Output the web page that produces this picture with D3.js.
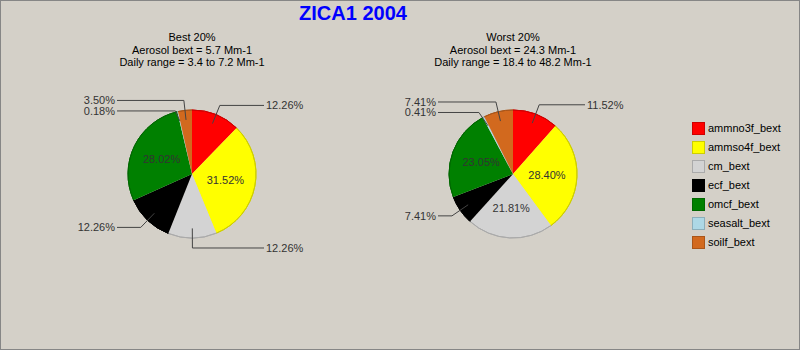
<!DOCTYPE html>
<html>
<head>
<meta charset="utf-8">
<script src="https://cdn.jsdelivr.net/npm/d3@7/dist/d3.min.js"></script>
<style>
  html, body { margin: 0; padding: 0; background: #d4d0c8; }
  svg { display: block; font-family: Arial, "Liberation Sans", sans-serif; }
</style>
</head>
<body>
<svg id="chart" width="800" height="350"></svg>
<script>
// Light-extinction composition, best and worst 20% days
const chartTitle = "ZICA1 2004";
const categories = ["ammno3f_bext", "ammso4f_bext", "cm_bext", "ecf_bext", "omcf_bext", "seasalt_bext", "soilf_bext"];
const bestValues = [12.26, 31.52, 12.26, 12.26, 28.02, 0.18, 3.50];
const worstValues = [11.52, 28.40, 21.81, 7.41, 23.05, 0.41, 7.41];
const bestHeader = ["Best 20%", "Aerosol bext = 5.7 Mm-1", "Daily range = 3.4 to 7.2 Mm-1"];
const worstHeader = ["Worst 20%", "Aerosol bext = 24.3 Mm-1", "Daily range = 18.4 to 48.2 Mm-1"];

const sliceColors = ["#ff0000", "#ffff00", "#d3d3d3", "#000000", "#008000", "#add8e6", "#d2691e"];

const W = 800, H = 350;
const svg = d3.select("#chart");

svg.append("rect").attr("x", 0.5).attr("y", 0.5).attr("width", W - 1).attr("height", H - 1)
  .attr("fill", "#d4d0c8").attr("stroke", "#868686");

svg.append("text")
  .attr("x", 353).attr("y", 20)
  .attr("text-anchor", "middle")
  .attr("font-size", 20).attr("font-weight", "bold")
  .attr("fill", "#0000ff")
  .text(chartTitle);

const color = d3.scaleOrdinal().domain(categories).range(sliceColors);
const fmt = v => d3.format(".2f")(v) + "%";

const R = 64;
const pie = d3.pie().sort(null).value(d => d.value);
const arc = d3.arc().innerRadius(0).outerRadius(R);
const rim = d3.arc().innerRadius(R).outerRadius(R);

function polar(a, r) { return [r * Math.sin(a), -r * Math.cos(a)]; }

function drawPie(cx, cy, values, header) {
  const g = svg.append("g");

  g.selectAll("text.hdr").data(header).join("text")
    .attr("class", "hdr")
    .attr("x", cx).attr("y", (d, i) => 41 + i * 12.5)
    .attr("text-anchor", "middle")
    .attr("font-size", 11).attr("fill", "#000")
    .text(d => d);

  const data = categories.map((c, i) => ({ cat: c, value: values[i] }));
  const arcs = pie(data);
  const pg = g.append("g").attr("transform", `translate(${cx},${cy})`);

  pg.selectAll("path.slice").data(arcs).join("path")
    .attr("class", "slice")
    .attr("d", arc)
    .attr("fill", d => color(d.data.cat));

  pg.selectAll("path.rim").data(arcs).join("path")
    .attr("class", "rim")
    .attr("d", rim)
    .attr("fill", "none")
    .attr("stroke", d => d3.color(color(d.data.cat)).darker(0.6))
    .attr("stroke-width", 1);

  // large slices: label inside
  const inside = arcs.filter(d => d.data.value >= 15);
  pg.selectAll("text.in").data(inside).join("text")
    .attr("class", "in")
    .attr("x", d => polar((d.startAngle + d.endAngle) / 2, 34)[0])
    .attr("y", d => polar((d.startAngle + d.endAngle) / 2, 34)[1])
    .attr("dy", "0.35em")
    .attr("text-anchor", "middle")
    .attr("font-size", 11).attr("fill", "#333")
    .text(d => fmt(d.data.value));

  // small slices: label outside with leader line
  const outside = arcs.filter(d => d.data.value < 15).map(d => {
    const a = (d.startAngle + d.endAngle) / 2;
    const e = polar(a, R + 10);
    return { d, a, ex: e[0], ey: e[1], right: Math.sin(a) >= 0 };
  });
  [true, false].forEach(side => {
    const list = outside.filter(o => o.right === side).sort((p, q) => p.ey - q.ey);
    let prev = -Infinity;
    list.forEach(o => {
      o.ly = Math.max(o.ey, prev + 10.5);
      prev = o.ly;
    });
  });

  outside.forEach(o => {
    const s = polar(o.a, R * 0.85);
    const endX = o.right ? 72 : -75;
    pg.append("polyline")
      .attr("points", [[s[0], s[1]], [o.ex, o.ly], [endX, o.ly]].map(p => p.join(",")).join(" "))
      .attr("fill", "none").attr("stroke", "#444").attr("stroke-width", 1);
    pg.append("text")
      .attr("x", o.right ? endX + 2 : endX - 2)
      .attr("y", o.ly).attr("dy", "0.35em")
      .attr("text-anchor", o.right ? "start" : "end")
      .attr("font-size", 11).attr("fill", "#333")
      .text(fmt(o.d.data.value));
  });
}

drawPie(192, 174, bestValues, bestHeader);
drawPie(513, 174, worstValues, worstHeader);

// legend
const lg = svg.append("g");
const ly = d3.scalePoint().domain(categories).range([122, 236]);
categories.forEach(c => {
  lg.append("rect")
    .attr("x", 692.5).attr("y", ly(c) + 0.5).attr("width", 12).attr("height", 12)
    .attr("fill", color(c))
    .attr("stroke", d3.color(color(c)).darker(0.6));
  lg.append("text")
    .attr("x", 708).attr("y", ly(c) + 6.5).attr("dy", "0.35em")
    .attr("font-size", 11).attr("fill", "#000")
    .text(c);
});
</script>
</body>
</html>
